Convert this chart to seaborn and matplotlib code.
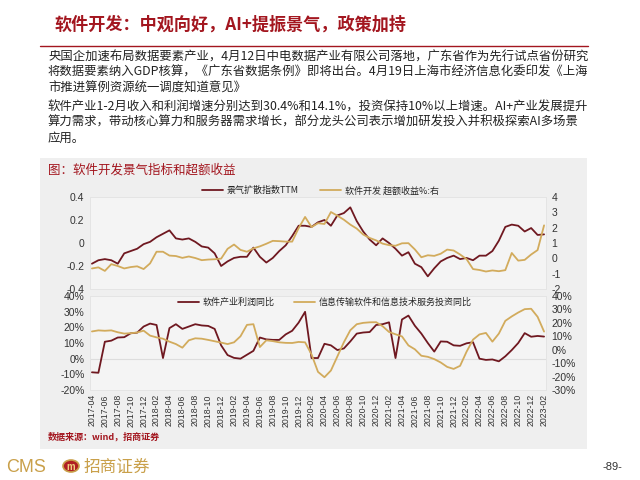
import numpy as np
import pandas as pd
import matplotlib
matplotlib.use("Agg")
import matplotlib.pyplot as plt
import seaborn as sns
from matplotlib.lines import Line2D
from matplotlib.patches import Rectangle, Circle

# ---------------- data ----------------
months = pd.period_range("2017-04", "2023-02", freq="M").strftime("%Y-%m").tolist()

diffusion_ttm = [-0.18, -0.15, -0.14, -0.15, -0.18, -0.09, -0.07, -0.05, -0.01, 0.01,
                 0.05, 0.08, 0.11, 0.04, 0.03, 0.04, 0.01, -0.03, -0.04, -0.09,
                 -0.20, -0.16, -0.13, -0.12, -0.12, -0.04, -0.12, -0.17, -0.13, -0.07,
                 -0.02, 0.06, 0.15, 0.15, 0.14, 0.18, 0.20, 0.15, 0.24, 0.26,
                 0.31, 0.19, 0.10, 0.03, -0.02, 0.04, 0.00, -0.05, -0.11, -0.08,
                 -0.18, -0.21, -0.29, -0.22, -0.16, -0.13, -0.11, -0.14, -0.13, -0.15,
                 -0.11, -0.11, -0.07, 0.02, 0.14, 0.16, 0.15, 0.10, 0.13, 0.07,
                 0.075]

excess_return = [-0.66, -0.59, -0.82, -0.38, -0.50, -0.66, -0.57, -0.52, -0.70, -0.33,
                 0.43, 0.43, 0.18, 0.15, 0.03, 0.12, 0.02, -0.12, -0.08, -0.06,
                 -0.02, 0.62, 0.90, 0.55, 0.43, 0.65, 0.78, 0.95, 1.14, 1.12,
                 1.09, 1.09, 1.97, 2.70, 2.04, 2.29, 2.24, 3.02, 2.78, 2.52,
                 2.20, 1.94, 1.55, 1.33, 1.17, 0.96, 0.86, 0.82, 0.98, 0.99,
                 0.58, 0.07, 0.20, 0.16, 0.30, 0.57, 0.51, 0.25, -0.05, -0.70,
                 -0.76, -0.86, -0.79, -0.84, -0.77, 0.35, -0.15, -0.10, 0.25, 0.54,
                 2.15]

profit_yoy = [-8.7, -9.0, 10.8, 11.5, 13.5, 13.7, 16.2, 16.6, 20.5, 22.4,
              21.5, 0.4, 19.5, 22.0, 19.0, 20.5, 22.0, 21.2, 20.9, 19.0,
              8.5, 2.3, 0.5, 0.0, 2.5, 5.0, 13.5, 12.3, 12.0, 12.0,
              15.5, 17.8, 23.0, 29.9, 0.4, 0.4, 9.5, 8.5, 5.5, 6.5,
              11.0, 16.0, 16.7, 17.0, 21.5, 22.0, 23.2, 0.4, 25.0, 27.5,
              21.0, 16.0, 10.0, 4.5, 11.0, 10.8, 8.5, 8.2, 9.8, 10.5,
              0.0, -0.8, -0.5, -1.7, 1.5, 5.5, 10.0, 16.3, 14.0, 14.5,
              14.1]

invest_yoy = [13.6, 14.4, 14.1, 14.4, 13.0, 12.0, 12.3, 12.8, 14.2, 10.5,
              9.2, 8.2, 6.0, 4.2, 1.5, 7.0, 8.5, 8.2, 7.3, 6.3,
              5.3, 4.2, 5.5, 10.0, 18.5, 19.0, 2.0, 7.0, 6.4, 5.5,
              5.1, 5.0, 5.8, 5.5, -3.5, -16.5, -20.5, -15.5, -5.0, 5.5,
              14.5, 19.0, 20.0, 20.4, 20.5, 17.5, 13.2, 11.5, 9.9, 3.2,
              0.3, -4.5, -5.3, -7.0, -9.5, -12.8, -14.3, -12.0, -1.5, 7.5,
              11.4, 12.5, 6.0, 12.0, 21.5, 24.8, 27.7, 30.2, 30.5, 24.5,
              13.5]

top_left_ticks = [-0.4, -0.2, 0, 0.2, 0.4]
top_left_labels = ["-0.4", "-0.2", "0", "0.2", "0.4"]
top_right_ticks = [-2, -1, 0, 1, 2, 3, 4]
bot_left_ticks = [-20, -10, 0, 10, 20, 30, 40]
bot_right_ticks = [-30, -20, -10, 0, 10, 20, 30, 40]

labels = {
    "ttm": "景气扩散指数TTM",
    "excess": "软件开发 超额收益%:右",
    "profit": "软件产业利润同比",
    "invest": "信息传输软件和信息技术服务投资同比",
}

# ---------------- style ----------------
sns.set_theme(style="white")
plt.rcParams["font.family"] = ["Noto Sans CJK SC", "DejaVu Sans"]

RED = "#6f1820"
GOLD = "#d2ab5c"
TITLE_RED = "#a3161f"
TICK_C = "#333333"
NUMFONT = ["Liberation Sans", "DejaVu Sans"]

fig = plt.figure(figsize=(6.4, 4.8), dpi=100)
fig.patch.set_facecolor("white")

def fx(px):
    return px / 640.0

def fy(py):
    return 1 - py / 480.0

# title
fig.text(fx(55), fy(25), "软件开发：中观向好，AI+提振景气，政策加持",
         fontsize=12.3, fontweight="bold", color=TITLE_RED, va="center", ha="left")
fig.add_artist(Line2D([fx(40), fx(588)], [fy(46), fy(46)], color=TITLE_RED, lw=1.0))

para = [
    (57, "央国企加速布局数据要素产业，4月12日中电数据产业有限公司落地，广东省作为先行试点省份研究"),
    (72, "将数据要素纳入GDP核算，《广东省数据条例》即将出台。4月19日上海市经济信息化委印发《上海"),
    (88, "市推进算例资源统一调度知道意见》"),
    (107, "软件产业1-2月收入和利润增速分别达到30.4%和14.1%，投资保持10%以上增速。AI+产业发展提升"),
    (122, "算力需求，带动核心算力和服务器需求增长，部分龙头公司表示增加研发投入并积极探索AI多场景"),
    (138, "应用。"),
]
for py, s in para:
    fig.text(fx(48), fy(py), s, fontsize=8.9, color="#222222", va="center", ha="left",
             fontweight="light")

# chart panel
fig.add_artist(Rectangle((fx(40), fy(449)), fx(547), 291 / 480.0,
                         transform=fig.transFigure, facecolor="#efefef",
                         edgecolor="none", zorder=-5))
fig.text(fx(48), fy(170), "图：软件开发景气指标和超额收益", fontsize=9,
         color=TITLE_RED, va="center", ha="left")

idx = list(range(len(months)))
df_top = pd.DataFrame({"idx": idx, "ttm": diffusion_ttm, "excess": excess_return})
df_bot = pd.DataFrame({"idx": idx, "profit": profit_yoy, "invest": invest_yoy})

L, R = 90, 546
xlim = (-0.3, len(months) - 0.7)

def style_axes(ax):
    ax.set_facecolor("#f4f4f4")
    for sp in ax.spines.values():
        sp.set_color("#e4e4e4")
        sp.set_linewidth(0.6)
    ax.tick_params(length=0, labelsize=7.5, colors=TICK_C, pad=4)
    ax.set_xlabel("")
    ax.set_ylabel("")

def set_num_font(ax):
    for t in ax.get_yticklabels() + ax.get_xticklabels():
        t.set_fontfamily(NUMFONT)

# top axes
ax1 = fig.add_axes([fx(L), fy(289), fx(R - L), (289 - 197) / 480.0])
sns.lineplot(data=df_top, x="idx", y="ttm", ax=ax1, color=RED, lw=1.3)
ax1r = ax1.twinx()
sns.lineplot(data=df_top, x="idx", y="excess", ax=ax1r, color=GOLD, lw=1.3)
for a in (ax1, ax1r):
    style_axes(a)
ax1r.patch.set_visible(False)
ax1.set_xlim(*xlim)
ax1.set_xticks([])
ax1.set_ylim(-0.4, 0.4)
ax1.set_yticks(top_left_ticks)
ax1.set_yticklabels(top_left_labels)
ax1r.set_ylim(-2, 4)
ax1r.set_yticks(top_right_ticks)
ax1r.set_yticklabels([str(v) for v in top_right_ticks])
set_num_font(ax1)
set_num_font(ax1r)
h_top = [Line2D([], [], color=RED, lw=1.3), Line2D([], [], color=GOLD, lw=1.3)]
ax1.legend(h_top, [labels["ttm"], labels["excess"]], loc="center",
           bbox_to_anchor=(0.505, 1.07), ncol=2, frameon=False, fontsize=6.5,
           handlelength=2.3, columnspacing=2.4, handletextpad=0.4)

# bottom axes
ax2 = fig.add_axes([fx(L), fy(390), fx(R - L), (390 - 296) / 480.0])
ax2.axhline(0, color="#dddddd", lw=0.8, zorder=0)
sns.lineplot(data=df_bot, x="idx", y="profit", ax=ax2, color=RED, lw=1.3)
ax2r = ax2.twinx()
sns.lineplot(data=df_bot, x="idx", y="invest", ax=ax2r, color=GOLD, lw=1.3)
for a in (ax2, ax2r):
    style_axes(a)
ax2r.patch.set_visible(False)
ax2.set_xlim(*xlim)
ax2.set_xticks(idx[::2])
ax2.set_xticklabels(months[::2], rotation=90, fontsize=6.3)
ax2.tick_params(axis="x", pad=3)
ax2.set_ylim(-20, 40)
ax2.set_yticks(bot_left_ticks)
ax2.set_yticklabels([f"{v}%" for v in bot_left_ticks])
ax2r.set_ylim(-30, 40)
ax2r.set_yticks(bot_right_ticks)
ax2r.set_yticklabels([f"{v}%" for v in bot_right_ticks])
set_num_font(ax2)
set_num_font(ax2r)
h_bot = [Line2D([], [], color=RED, lw=1.3), Line2D([], [], color=GOLD, lw=1.3)]
ax2.legend(h_bot, [labels["profit"], labels["invest"]], loc="center",
           bbox_to_anchor=(0.515, 0.935), ncol=2, frameon=False, fontsize=6.5,
           handlelength=2.3, columnspacing=2.2, handletextpad=0.4)

# source
fig.text(fx(48), fy(437), "数据来源：wind，招商证券", fontsize=6.5, fontweight="bold",
         color=TITLE_RED, va="center", ha="left")

# footer logo
fig.text(fx(6), fy(467), "CMS", fontsize=13, color="#c9a04a", va="center", ha="left",
         family=["Liberation Sans", "DejaVu Sans"])
fig.add_artist(Circle((fx(71), fy(466)), 8 / 640.0, transform=fig.transFigure,
                      facecolor="#b01e23", edgecolor="#c9a04a", lw=1.2))
fig.text(fx(71), fy(466.5), "m", fontsize=7, color="#f0d080", va="center", ha="center",
         fontweight="bold", family=["Liberation Sans", "DejaVu Sans"])
fig.text(fx(84), fy(467), "招商证券", fontsize=12, color="#c9a04a", va="center", ha="left")
fig.text(fx(622), fy(467), "-89-", fontsize=8, color="#333333", va="center", ha="right",
         family=["Liberation Sans", "DejaVu Sans"])

fig.savefig("out.png", dpi=100)
